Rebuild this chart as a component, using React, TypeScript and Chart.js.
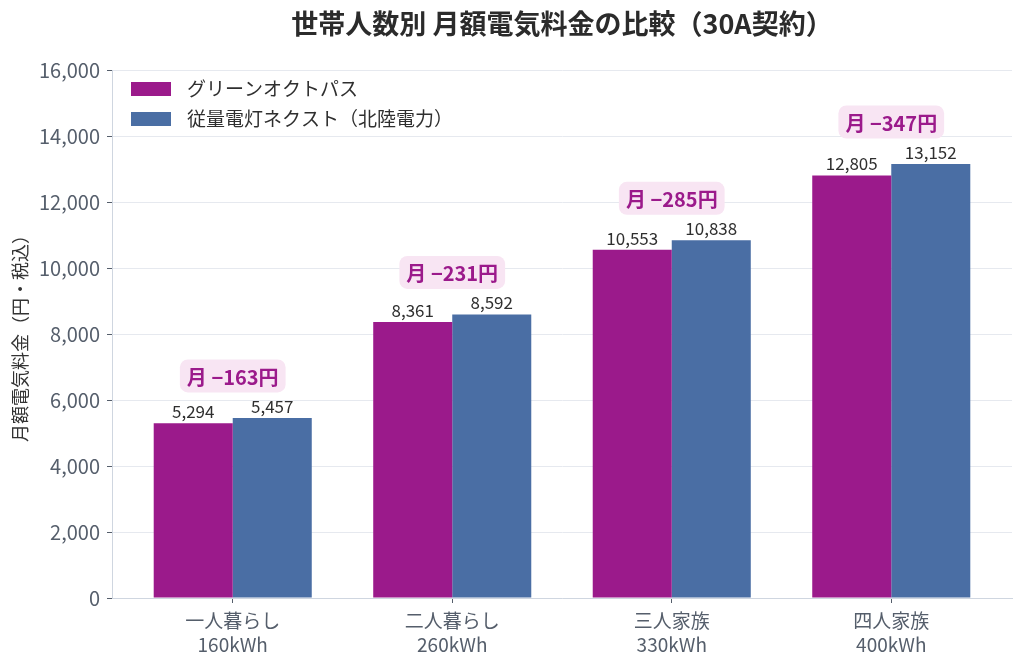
import React, { useEffect, useRef } from 'react';
import Chart from 'chart.js/auto';

// 世帯人数別の月額電気料金（30A契約）
const categories = ['一人暮らし', '二人暮らし', '三人家族', '四人家族'];
const usage = ['160kWh', '260kWh', '330kWh', '400kWh'];
const octopus = [5294, 8361, 10553, 12805];
const hokuriku = [5457, 8592, 10838, 13152];
const seriesNames = ['グリーンオクトパス', '従量電灯ネクスト（北陸電力）'];
const yMax = 16000;
const yStep = 2000;

const FONT = "'Noto Sans CJK JP', 'Noto Sans', sans-serif";
const MAGENTA = '#9b1a8b';
const BLUE = '#4a6ea4';
const TICK_COLOR = '#555e6b';

const overlay = {
  id: 'overlay',
  afterDatasetsDraw(chart: any) {
    const { ctx, chartArea } = chart;
    const m0 = chart.getDatasetMeta(0);
    const m1 = chart.getDatasetMeta(1);
    ctx.save();

    // 値ラベル
    ctx.font = `17px ${FONT}`;
    ctx.fillStyle = '#2f2f2f';
    ctx.textAlign = 'center';
    ctx.textBaseline = 'bottom';
    [m0, m1].forEach((meta, d) => {
      const vals = d === 0 ? octopus : hokuriku;
      meta.data.forEach((bar: any, i: number) => {
        ctx.fillText(vals[i].toLocaleString('en-US'), bar.x, bar.y - 3);
      });
    });

    // 差額バッジ
    ctx.font = `bold 20px ${FONT}`;
    ctx.textBaseline = 'middle';
    categories.forEach((_, i) => {
      const a = m0.data[i];
      const b = m1.data[i];
      const cx = (a.x + b.x) / 2;
      const cy = Math.min(a.y, b.y) - 42;
      const text = `月 \u2212${Math.abs(octopus[i] - hokuriku[i])}円`;
      const w = ctx.measureText(text).width + 14;
      const h = 33;
      ctx.fillStyle = '#f8e5f3';
      ctx.beginPath();
      ctx.roundRect(cx - w / 2, cy - h / 2, w, h, 8);
      ctx.fill();
      ctx.fillStyle = MAGENTA;
      ctx.fillText(text, cx, cy + 1);
    });

    // 凡例
    ctx.font = `19px ${FONT}`;
    ctx.textAlign = 'left';
    ctx.textBaseline = 'middle';
    [MAGENTA, BLUE].forEach((c, i) => {
      const y = 82 + i * 30;
      ctx.fillStyle = c;
      ctx.fillRect(chartArea.left + 19, y, 40, 14);
      ctx.fillStyle = '#2f2f2f';
      ctx.fillText(seriesNames[i], chartArea.left + 75, y + 7);
    });

    // タイトル
    ctx.font = `bold 27px ${FONT}`;
    ctx.textAlign = 'center';
    ctx.fillStyle = '#2b2b2b';
    ctx.fillText('世帯人数別 月額電気料金の比較（30A契約）', (chartArea.left + chartArea.right) / 2, 24);
    ctx.restore();
  },
};

export default function App() {
  const canvasRef = useRef<HTMLCanvasElement>(null);

  useEffect(() => {
    document.body.style.margin = '0';
    if (!canvasRef.current) return;
    Chart.defaults.font.family = FONT;

    const chart = new Chart(canvasRef.current, {
      type: 'bar',
      data: {
        datasets: [
          {
            label: seriesNames[0],
            data: octopus.map((v, i) => ({ x: i, y: v })),
            backgroundColor: MAGENTA,
            categoryPercentage: 0.72,
            barPercentage: 1,
          },
          {
            label: seriesNames[1],
            data: hokuriku.map((v, i) => ({ x: i, y: v })),
            backgroundColor: BLUE,
            categoryPercentage: 0.72,
            barPercentage: 1,
          },
        ],
      },
      options: {
        responsive: false,
        animation: false,
        layout: { padding: { top: 70, right: 12, left: 0, bottom: 0 } },
        plugins: {
          legend: { display: false },
          title: { display: false },
          tooltip: { enabled: false },
        },
        scales: {
          x: {
            type: 'linear',
            offset: false,
            min: -0.55,
            max: 3.55,
            afterFit: (s: any) => { s.height = 69; },
            afterBuildTicks: (s: any) => {
              s.ticks = categories.map((_, i) => ({ value: i }));
            },
            grid: {
              offset: false,
              drawOnChartArea: false,
              tickLength: 5,
              tickColor: TICK_COLOR,
            },
            border: { color: '#cfd6e0', width: 1 },
            ticks: {
              includeBounds: false,
              padding: 5,
              color: TICK_COLOR,
              font: { size: 19, lineHeight: 1.3 },
              callback: (v: any) => [categories[v], usage[v]],
            },
          },
          y: {
            min: 0,
            max: yMax,
            afterFit: (s: any) => { s.width = 112; },
            grid: {
              color: '#e6e9ef',
              tickLength: 5,
              tickColor: TICK_COLOR,
            },
            border: { color: '#cfd6e0', width: 1 },
            ticks: {
              stepSize: yStep,
              padding: 7,
              color: TICK_COLOR,
              font: { size: 20 },
              callback: (v: any) => Number(v).toLocaleString('en-US'),
            },
            title: {
              display: true,
              text: '月額電気料金（円・税込）',
              color: '#333',
              font: { size: 18 },
              padding: { top: 9, bottom: 0 },
            },
          },
        },
      },
      plugins: [overlay],
    });

    return () => chart.destroy();
  }, []);

  return (
    <div style={{ width: 1024, height: 667, background: '#fff' }}>
      <canvas ref={canvasRef} width={1024} height={667} />
    </div>
  );
}
